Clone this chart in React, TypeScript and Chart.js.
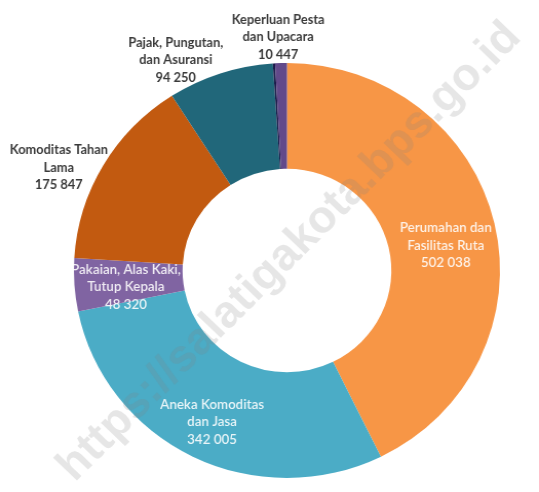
import React, { useEffect, useRef } from "react";
import { Chart, registerables } from "chart.js";

Chart.register(...registerables);

const categories = [
  "Perumahan dan Fasilitas Ruta",
  "Aneka Komoditas dan Jasa",
  "Pakaian, Alas Kaki, Tutup Kepala",
  "Komoditas Tahan Lama",
  "Pajak, Pungutan, dan Asuransi",
  "",
  "Keperluan Pesta dan Upacara",
];
const labelLines: string[][] = [
  ["Perumahan dan", "Fasilitas Ruta"],
  ["Aneka Komoditas", "dan Jasa"],
  ["Pakaian, Alas Kaki,", "Tutup Kepala"],
  ["Komoditas Tahan", "Lama"],
  ["Pajak, Pungutan,", "dan Asuransi"],
  [],
  ["Keperluan Pesta", "dan Upacara"],
];
const values = [502038, 342005, 48320, 175847, 94250, 2000, 10447];
const colors = ["#F79646", "#4BACC6", "#8064A2", "#C25A10", "#21677A", "#1C1A4A", "#62498A"];

// label placement: radius as fraction of outer radius, angular tweak in degrees
const labelLayout = [
  { r: 0.755, dA: 4, inside: true },
  { r: 0.81, dA: -0.5, inside: true },
  { r: 0.76, dA: -2, inside: true },
  { r: 1.18, dA: -5.5, inside: false },
  { r: 1.14, dA: -9, inside: false },
  { r: 1, dA: 0, inside: false },
  { r: 1.125, dA: -0.5, inside: false },
];

const fmt = (n: number) => n.toString().replace(/\B(?=(\d{3})+(?!\d))/g, " ");

const labelPlugin = {
  id: "sliceLabels",
  afterDatasetsDraw(chart: any) {
    const ctx = chart.ctx;
    const meta = chart.getDatasetMeta(0);
    meta.data.forEach((arc: any, i: number) => {
      const lines = labelLines[i];
      if (!lines.length) return;
      const p = arc.getProps(["x", "y", "startAngle", "endAngle", "innerRadius", "outerRadius"], true);
      const lay = labelLayout[i];
      const a = (p.startAngle + p.endAngle) / 2 + (lay.dA * Math.PI) / 180;
      const r = p.outerRadius * lay.r;
      const cx = p.x + Math.cos(a) * r;
      const cy = p.y + Math.sin(a) * r;
      const all = [...lines, fmt(values[i])];
      ctx.save();
      ctx.font = lay.inside
        ? "600 13px Lato, 'Open Sans', sans-serif"
        : "bold 12.5px Lato, 'Open Sans', sans-serif";
      ctx.fillStyle = lay.inside ? "rgba(255,255,255,0.88)" : "#3a3a3a";
      ctx.textAlign = "center";
      ctx.textBaseline = "middle";
      const lh = 17.5;
      const y0 = cy - ((all.length - 1) * lh) / 2;
      all.forEach((t, k) => ctx.fillText(t, cx, y0 + k * lh));
      ctx.restore();
    });
  },
};

const watermarkPlugin = {
  id: "watermark",
  afterDraw(chart: any) {
    const ctx = chart.ctx;
    ctx.save();
    ctx.translate(282, 252);
    ctx.rotate((-45.5 * Math.PI) / 180);
    ctx.font = "bold 45px 'Liberation Sans', Arial, sans-serif";
    ctx.fillStyle = "rgba(130,130,130,0.2)";
    ctx.textAlign = "center";
    ctx.textBaseline = "middle";
    ctx.fillText("https://salatigakota.bps.go.id", 0, 0);
    ctx.restore();
  },
};

export default function App() {
  const ref = useRef<HTMLCanvasElement>(null);
  useEffect(() => {
    if (!ref.current) return;
    const chart = new Chart(ref.current, {
      type: "doughnut",
      data: {
        labels: categories,
        datasets: [
          {
            data: values,
            backgroundColor: colors,
            borderWidth: 0,
          },
        ],
      },
      options: {
        responsive: false,
        animation: false,
        cutout: "49%",
        layout: { padding: { top: 63, bottom: 14, left: 72, right: 38 } },
        plugins: {
          legend: { display: false },
          tooltip: { enabled: false },
        },
      },
      plugins: [labelPlugin, watermarkPlugin],
    });
    return () => chart.destroy();
  }, []);
  return (
    <div style={{ position: "absolute", left: 0, top: 0, width: 539, height: 492, background: "#fff" }}>
      <canvas ref={ref} width={525} height={492} style={{ display: "block", width: "539px", height: "492px" }} />
    </div>
  );
}
